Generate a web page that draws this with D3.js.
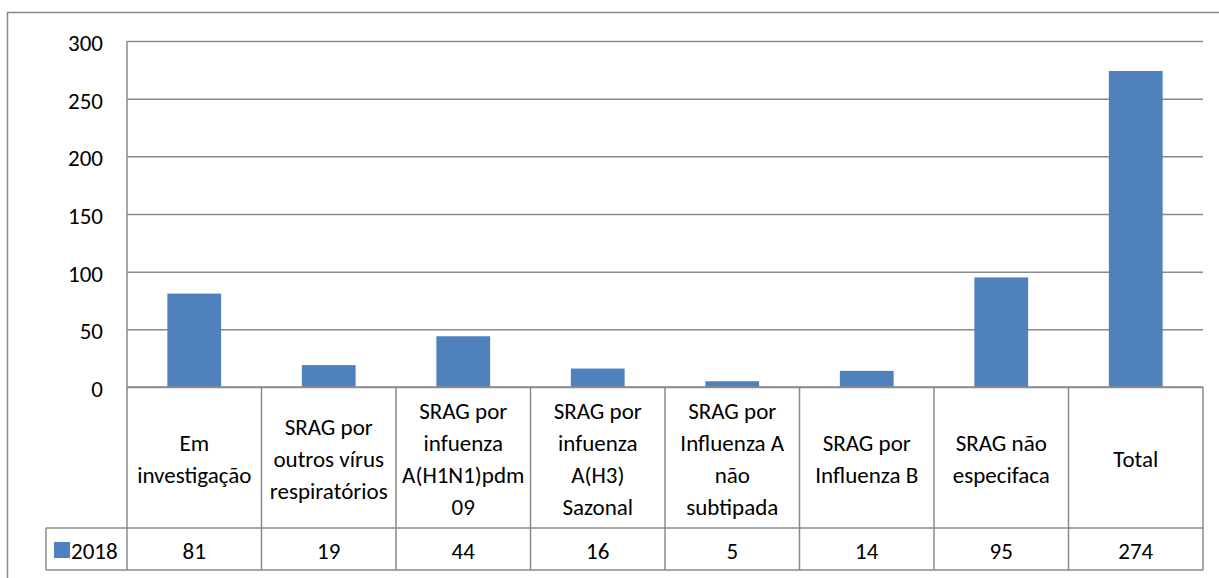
<!DOCTYPE html>
<html>
<head>
<meta charset="utf-8">
<script src="https://cdn.jsdelivr.net/npm/d3@7"></script>
<style>
  body { margin: 0; background: #fff; }
  svg text { font-family: Carlito, "Liberation Sans Narrow", "Open Sans", sans-serif; fill: #000; }
</style>
</head>
<body>
<svg id="chart"></svg>
<script>
let categories = [
  ["Em", "investigação"],
  ["SRAG por", "outros vírus", "respiratórios"],
  ["SRAG por", "infuenza", "A(H1N1)pdm", "09"],
  ["SRAG por", "infuenza", "A(H3)", "Sazonal"],
  ["SRAG por", "Influenza A", "não", "subtipada"],
  ["SRAG por", "Influenza B"],
  ["SRAG não", "especifaca"],
  ["Total"]
];
let seriesName = "2018";
let values = [81, 19, 44, 16, 5, 14, 95, 274];
let yTicks = [0, 50, 100, 150, 200, 250, 300];

let width = 1219, height = 578;
let plotLeft = 127, plotRight = 1203, plotTop = 41, zeroY = 387;
let labelRowBottom = 528, valueRowBottom = 570, legendLeft = 46;
let gridColor = "#8a8a8a", barColor = "#4f81bd";
let fontSize = 23;

let svg = d3.select("#chart").attr("width", width).attr("height", height);

// outer chart border (runs off the right and bottom edge)
svg.append("rect")
  .attr("x", 7.5).attr("y", 12.5)
  .attr("width", 1230).attr("height", 600)
  .attr("fill", "none").attr("stroke", gridColor).attr("stroke-width", 1.5);

let idx = categories.map((c, i) => i);

let xScale = d3.scaleBand()
  .domain(idx)
  .range([plotLeft, plotRight])
  .padding(0);

let yScale = d3.scaleLinear()
  .domain([0, 300])
  .range([zeroY, plotTop]);

// gridlines + y labels
let yAxis = d3.axisLeft(yScale)
  .tickValues(yTicks)
  .tickSize(-(plotRight - plotLeft))
  .tickPadding(24);

let gy = svg.append("g")
  .attr("transform", `translate(${plotLeft},0)`)
  .call(yAxis);
gy.select(".domain").remove();
gy.selectAll(".tick line").attr("stroke", gridColor).attr("stroke-width", 1.5);
gy.selectAll(".tick text")
  .style("font-size", fontSize + "px")
  .attr("dy", "0.41em");

// vertical axis line
svg.append("line")
  .attr("x1", plotLeft).attr("x2", plotLeft)
  .attr("y1", plotTop).attr("y2", zeroY)
  .attr("stroke", gridColor).attr("stroke-width", 1.5);

// bars
let barW = xScale.bandwidth() * 0.4;
svg.selectAll("rect.bar")
  .data(values)
  .enter()
  .append("rect")
  .attr("class", "bar")
  .attr("x", (d, i) => xScale(i) + (xScale.bandwidth() - barW) / 2)
  .attr("y", d => yScale(d))
  .attr("width", barW)
  .attr("height", d => yScale(0) - yScale(d))
  .attr("fill", barColor);

// data table lines
let table = svg.append("g");
[zeroY, labelRowBottom, valueRowBottom].forEach(y => {
  table.append("line")
    .attr("x1", y === zeroY ? plotLeft : legendLeft).attr("x2", plotRight)
    .attr("y1", y).attr("y2", y)
    .attr("stroke", gridColor).attr("stroke-width", 1.5);
});
idx.concat([idx.length]).forEach(i => {
  let x = i < idx.length ? xScale(i) : plotRight;
  table.append("line")
    .attr("x1", x).attr("x2", x)
    .attr("y1", zeroY).attr("y2", valueRowBottom)
    .attr("stroke", gridColor).attr("stroke-width", 1.5);
});
table.append("line")
  .attr("x1", legendLeft).attr("x2", legendLeft)
  .attr("y1", labelRowBottom).attr("y2", valueRowBottom)
  .attr("stroke", gridColor).attr("stroke-width", 1.5);

// category labels
let lineH = 32;
let midLabel = 459;
categories.forEach((lines, i) => {
  let t = svg.append("text")
    .attr("text-anchor", "middle")
    .style("font-size", fontSize + "px");
  lines.forEach((ln, j) => {
    t.append("tspan")
      .attr("x", xScale(i) + xScale.bandwidth() / 2)
      .attr("y", midLabel + (j - (lines.length - 1) / 2) * lineH)
      .attr("dy", "0.35em")
      .text(ln);
  });
});

// values row
let midVal = 551;
svg.selectAll("text.val")
  .data(values)
  .enter()
  .append("text")
  .attr("class", "val")
  .attr("x", (d, i) => xScale(i) + xScale.bandwidth() / 2)
  .attr("y", midVal)
  .attr("dy", "0.35em")
  .attr("text-anchor", "middle")
  .style("font-size", fontSize + "px")
  .text(d => d);

// legend key
svg.append("rect")
  .attr("x", 54).attr("y", 542)
  .attr("width", 16).attr("height", 16)
  .attr("fill", barColor);
svg.append("text")
  .attr("x", 71).attr("y", midVal)
  .attr("dy", "0.35em")
  .style("font-size", fontSize + "px")
  .text(seriesName);
</script>
</body>
</html>
